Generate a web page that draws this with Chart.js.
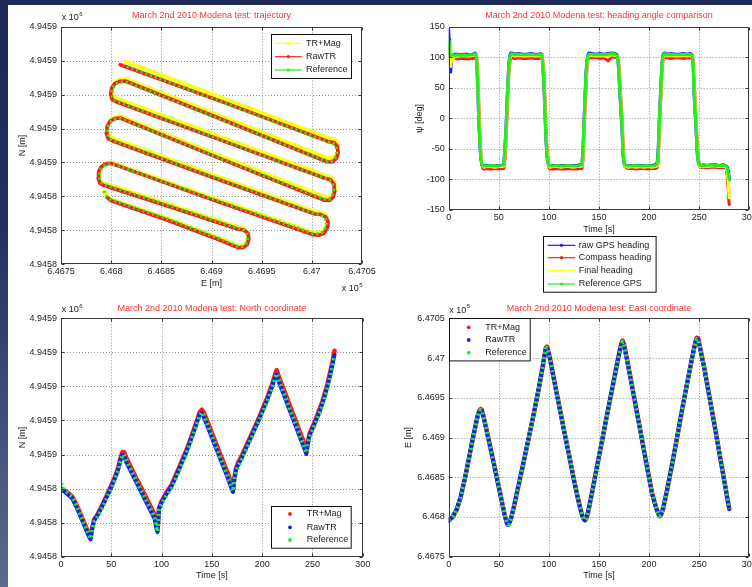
<!DOCTYPE html>
<html><head><meta charset="utf-8">
<script src="https://cdn.jsdelivr.net/npm/chart.js@4.4.1/dist/chart.umd.min.js"></script>
<style>
html,body{margin:0;padding:0;}
body{width:752px;height:587px;overflow:hidden;position:relative;
 background:linear-gradient(180deg,#1c2957 0%,#223160 40%,#3f4e76 70%,#5b698c 100%);}
#panel{position:absolute;left:8px;top:5px;width:744px;height:582px;background:#fff;}
canvas{position:absolute;}
</style></head><body>
<div id="panel"></div>
<canvas id="cTraj" width="368" height="290" style="left:8px;top:5px;width:368px;height:290px"></canvas>
<canvas id="cHead" width="376" height="291" style="left:376px;top:5px;width:376px;height:291px"></canvas>
<canvas id="cNorth" width="368" height="292" style="left:8px;top:295px;width:368px;height:292px"></canvas>
<canvas id="cEast" width="376" height="291" style="left:376px;top:296px;width:376px;height:291px"></canvas>
<script>
// ---------------- DATA ----------------
const E_BASE = 646750;   // metres; East values below are metres above this
const N_BASE = 4945800;  // metres; North values below are metres above this

// axis ticks (metres / seconds / degrees) and their printed labels
const eTickValues = [646750, 646800, 646850, 646900, 646950, 647000, 647050];
const eTickLabels = ['6.4675', '6.468', '6.4685', '6.469', '6.4695', '6.47', '6.4705'];
const nTickValues = [4945800, 4945820, 4945840, 4945860, 4945880, 4945900, 4945920, 4945940];
const nTickLabels = ['4.9458', '4.9458', '4.9458', '4.9459', '4.9459', '4.9459', '4.9459', '4.9459'];
const timeTickValues = [0, 50, 100, 150, 200, 250, 300];
const timeTickLabels = ['0', '50', '100', '150', '200', '250', '300'];
const headTickValues = [-150, -100, -50, 0, 50, 100, 150];
const headTickLabels = ['-150', '-100', '-50', '0', '50', '100', '150'];

// Trajectory (E, N), metres above bases
const trajRefE = [42.7, 45.7, 50.7, 105.7, 155.7, 176, 181, 184.5, 186, 185, 181.5, 176, 110, 43,
  39.5, 38, 38.6, 41, 45, 50, 152, 251, 256.5, 261, 264, 264.8, 262.5, 258, 253, 150, 51,
  47.5, 46, 46.8, 49.5, 54, 59, 160, 262, 267, 270.2, 271.6, 270.8, 267.8, 263, 160, 55,
  51.8, 50.5, 51.5, 54.5, 59, 64, 165, 265, 270, 273.4, 274.8, 274, 271, 266, 165, 62];
const trajRefN = [43.2, 39.8, 37.9, 26.8, 15.6, 10.6, 10.6, 12.3, 15.5, 18.6, 20.6, 21.3, 34.2, 47,
  48.3, 51.3, 54.6, 57.3, 58.8, 59.3, 38.3, 18.2, 17.9, 19, 21.8, 25.2, 28, 29.5, 29.8, 51.9, 73.2,
  74.5, 77.6, 81, 84, 85.5, 85.9, 62.2, 38.4, 38.3, 40.2, 43.5, 47, 49.6, 50.6, 73.2, 96.2,
  97.4, 100.4, 103.7, 106.3, 107.4, 107.6, 84.0, 60.7, 60.8, 62.8, 66, 69.3, 71.4, 72.2, 94.6, 117.5];
const trajRawE = [45.5, 50.7, 105.7, 155.7, 176.5, 181.5, 185.5, 187.3, 186.3, 182, 176, 110, 43,
  39, 37, 37.4, 40, 44.5, 50, 152, 251, 257, 262, 265.3, 266.2, 263.8, 258.5, 253, 150, 51,
  47, 45, 45.8, 48.8, 53.5, 59, 160, 262, 267.5, 271.3, 273, 272.2, 268.8, 263, 160, 55,
  51, 49.5, 50.5, 53.8, 58.5, 64, 165, 265, 270.5, 274.5, 276.2, 275.4, 272, 266, 165, 59];
const trajRawN = [39.6, 37.3, 26.1, 14.9, 9.8, 9.8, 11.6, 15, 18.3, 20.2, 20.8, 33.6, 46.4,
  47.6, 50.8, 54.3, 57.4, 59.1, 59.5, 37.8, 17.5, 17.1, 18.2, 21.3, 25, 28, 29.4, 29.6, 51.4, 72.8,
  74, 77.3, 81, 84.3, 85.9, 86.2, 62, 37.8, 37.6, 39.6, 43.2, 47, 49.8, 50.7, 73, 95.8,
  97, 100.2, 103.8, 106.6, 107.8, 108, 84.3, 60.4, 60.3, 62.4, 65.8, 69.5, 71.8, 72.4, 94.8, 117.6];
const trajMagE = [43, 46, 51, 106, 156, 176.5, 181.5, 185, 186.6, 185.7, 182, 176, 110, 43,
  39.5, 38.3, 38.9, 41.3, 45.3, 50, 152, 251, 257, 262, 265.3, 266.2, 264, 259, 253, 150, 51,
  47.5, 46.2, 47, 49.8, 54.3, 59, 160, 263, 268.3, 271.8, 273.3, 272.5, 269.3, 264, 160, 55,
  51.8, 50.7, 51.8, 54.8, 59.3, 64, 165, 266, 271.5, 275.2, 276.6, 275.8, 272.5, 267, 165, 64];
const trajMagN = [43, 39.9, 38, 27, 15.9, 10.9, 11, 12.7, 15.9, 19.1, 21.2, 22, 34.9, 47.6,
  49, 52, 55.2, 58, 59.5, 60, 39, 18.8, 18.6, 19.8, 22.6, 26, 29, 30.5, 30.9, 53, 74.3,
  75.6, 78.7, 82.2, 85.2, 86.8, 87.2, 63.6, 39.7, 39.6, 41.6, 45, 48.6, 51.2, 52.1, 74.9, 97.7,
  98.9, 102, 105.3, 108, 109.1, 109.3, 86, 62.5, 62.8, 64.8, 68, 71.4, 73.6, 74.3, 97, 119.6];

// Heading angle (deg) versus time (s)
const headTime = [0, 0.5, 1, 1.5, 2, 3, 4, 6, 9, 12, 15, 18, 21, 24, 26, 27,
  28, 29, 30, 31, 32, 33, 34, 35, 38, 42, 46, 50, 53, 55,
  56, 57, 58, 59, 60, 61, 62, 63, 66, 70, 74, 78, 82, 86, 90, 92,
  93, 94, 95, 96, 97, 98, 99, 100, 101, 104, 108, 112, 116, 120, 124, 128, 131, 133,
  134, 135, 136, 137, 138, 139, 140, 143, 147, 151, 155, 159, 163, 166, 168,
  169, 170, 171, 172, 173, 174, 175, 176, 179, 183, 187, 191, 195, 199, 203, 206, 208,
  209, 210, 211, 212, 213, 214, 215, 218, 222, 226, 230, 234, 238, 241, 243,
  244, 245, 246, 247, 248, 249, 250, 251, 254, 258, 262, 266, 270, 274, 276, 277,
  278, 279, 279.5, 280];
const headRawGps = [145, 130, 100, 85, 76, 100, 104, 105, 105, 104, 105, 105, 104, 105, 107, 106,
  90, 45, -5, -42, -66, -76, -78, -78, -77, -77, -78, -77, -77, -75,
  -48, -20, 22, 60, 90, 103, 107, 107, 105, 106, 105, 105, 106, 105, 105, 106,
  104, 82, 52, 8, -35, -62, -73, -78, -79, -77, -78, -77, -77, -78, -77, -77, -76, -74,
  -48, -5, 38, 75, 96, 104, 107, 106, 105, 106, 105, 106, 107, 106, 104,
  92, 66, 34, 6, -22, -62, -74, -78, -77, -78, -77, -77, -78, -77, -77, -76, -73,
  -52, -6, 30, 65, 94, 105, 107, 105, 106, 105, 105, 106, 105, 106, 104,
  82, 35, 5, -25, -58, -71, -77, -78, -76, -77, -76, -76, -77, -76, -77, -78,
  -80, -86, -92, -100];
const headCompass = [123, 112, 104, 100, 98, 97, 98, 98, 97, 98, 98, 97, 98, 98, 99, 99,
  99, 75, 28, -20, -55, -75, -82, -83, -82, -83, -82, -83, -82, -82,
  -70, -45, -5, 35, 72, 92, 98, 99, 98, 99, 98, 98, 99, 98, 98, 99,
  99, 95, 75, 35, -10, -45, -68, -80, -83, -83, -82, -83, -83, -82, -83, -83, -82, -82,
  -70, -30, 12, 50, 82, 96, 99, 99, 100, 98, 99, 94, 101, 100, 99,
  98, 85, 55, 28, 0, -38, -68, -79, -82, -82, -83, -82, -82, -83, -82, -82, -81,
  -72, -35, 5, 42, 78, 96, 99, 99, 98, 99, 99, 98, 99, 99, 99,
  96, 62, 28, -5, -40, -62, -76, -80, -80, -81, -80, -80, -81, -80, -81, -82,
  -95, -115, -134, -141];
const headFinal = [128, 112, 88, 110, 85, 106, 95, 102, 102, 102, 103, 102, 102, 103, 104, 104,
  98, 62, 12, -28, -58, -72, -78, -80, -79, -79, -80, -79, -79, -78,
  -62, -36, 6, 45, 80, 97, 103, 104, 102, 103, 102, 102, 103, 102, 102, 103,
  102, 92, 66, 24, -20, -52, -69, -78, -80, -79, -79, -80, -79, -79, -80, -79, -79, -78,
  -62, -20, 22, 60, 88, 100, 103, 103, 102, 103, 102, 101, 104, 103, 102,
  97, 78, 48, 20, -8, -48, -70, -78, -80, -79, -80, -79, -80, -79, -80, -79, -78,
  -66, -22, 14, 50, 85, 100, 104, 102, 103, 102, 102, 103, 102, 103, 102,
  92, 50, 20, -12, -46, -66, -76, -79, -78, -79, -78, -78, -79, -78, -79, -80,
  -88, -105, -122, -130];
const headRefGps = [133, 120, 110, 104, 102, 103, 104, 103, 104, 103, 104, 103, 104, 104, 106, 105,
  96, 52, 3, -35, -62, -74, -77, -78, -78, -77, -78, -78, -77, -76,
  -55, -30, 14, 52, 84, 100, 105, 106, 104, 105, 104, 104, 105, 104, 104, 105,
  103, 88, 60, 15, -28, -57, -70, -76, -78, -78, -77, -78, -78, -77, -78, -78, -77, -76,
  -55, -12, 30, 68, 92, 102, 105, 105, 104, 105, 104, 105, 106, 105, 103,
  95, 72, 41, 14, -14, -55, -71, -76, -78, -78, -77, -78, -78, -77, -78, -77, -75,
  -60, -14, 22, 58, 90, 103, 106, 104, 105, 104, 104, 105, 104, 105, 103,
  88, 41, 12, -18, -52, -68, -75, -77, -77, -77, -76, -77, -77, -77, -77, -78,
  -82, -90, -96, -101];

// North coordinate versus time (metres above N_BASE)
const northTime = [0, 3, 7, 11, 15, 20, 25, 28, 29.5, 31, 33, 36, 40, 45, 50, 54, 57, 59, 61, 62.5,
  65, 70, 75, 80, 85, 90, 93, 95, 96, 97.5, 100, 105, 110, 115, 120, 125, 130, 135, 138, 140,
  142, 146, 150, 155, 160, 165, 169, 171, 172.5, 174, 176, 180, 185, 190, 195, 200, 205, 210, 213, 214.5,
  217, 222, 227, 232, 237, 241, 244, 245.5, 247, 250, 255, 260, 265, 270, 272];
const northTRMag = [40, 39, 37.5, 35.5, 31, 24.2, 17.2, 13, 11.3, 16.8, 22, 24.5, 29, 35.2, 41.8, 47.3, 52.5, 57.5, 61.3, 61.5,
  58, 52, 46, 40.2, 34.3, 28.4, 24.8, 18.5, 15.5, 28.5, 32.5, 37.8, 42.3, 49, 56, 63, 71, 79.5, 85, 86.3,
  84.6, 78.8, 72.8, 65.3, 57.8, 50.3, 43.8, 39.5, 46.5, 51.8, 55, 59.6, 66.1, 72.6, 79.1, 86.1, 93.2, 101.2, 107.2, 109.6,
  105, 97.5, 89.5, 82, 74, 68, 62.5, 67, 72, 76, 83.3, 91.3, 101.5, 114.5, 121];
const northRawTR = [39, 38.5, 36.4, 34.3, 29.6, 22.7, 15.7, 11.5, 10.2, 16.5, 21.4, 24, 28.5, 34.5, 41, 46.5, 51.5, 56.5, 60, 59.5,
  55.4, 49.5, 43.6, 37.7, 31.8, 25.9, 22.3, 16, 14.4, 28.4, 32, 37, 41.5, 48, 55, 62, 70, 78.5, 84, 84.3,
  82, 76, 70, 62.5, 55, 47.5, 41, 38, 46, 51, 53.9, 58.5, 65, 71.5, 78, 85, 92, 100, 106, 107,
  102, 94.5, 86.5, 79, 71, 65, 60.3, 66, 71, 75, 82, 90, 100, 113, 118.5];
const northRef = [43, 39.5, 37.2, 35.2, 30.5, 23.6, 16.6, 12.4, 10.6, 15.7, 20.5, 23, 27.5, 33.5, 40, 45.5, 50.5, 55.5, 59.5, 60,
  56.4, 50.5, 44.6, 38.7, 32.8, 26.9, 23.3, 17, 14.8, 27.4, 31, 36, 40.5, 47, 54, 61, 69, 77.5, 83, 84.8,
  83, 77, 71, 63.5, 56, 48.5, 42, 38.5, 45, 50, 52.9, 57.5, 64, 70.5, 77, 84, 91, 99, 105, 107.5,
  103, 95.5, 87.5, 80, 72, 66, 61, 65, 70, 74, 81, 89, 99, 112, 118];

// East coordinate versus time (metres above E_BASE)
const eastTime = [0, 4, 8, 12, 16, 20, 24, 27, 29, 31, 32, 33, 35, 40, 45, 50, 54, 56, 58, 59,
  60, 62, 65, 70, 75, 80, 85, 90, 94, 96, 97, 98, 99, 101, 105, 110, 115, 120, 125, 130,
  133, 135, 136, 137, 139, 143, 148, 153, 158, 163, 168, 171, 172.5, 173.5, 175, 178, 183, 188, 193, 198,
  203, 207, 209, 210.5, 212, 214, 218, 223, 228, 233, 238, 243, 246, 247.5, 249, 251, 255, 260, 265, 270,
  275, 280];
const eastTRMag = [46, 50, 59, 75, 97, 122, 148, 166, 177.5, 185, 186, 185, 175.5, 147, 118, 88, 64, 52, 43, 40.5,
  41, 47, 62, 91, 120, 150, 180, 212, 240.5, 256, 263, 264.5, 261, 250.5, 224, 192, 160, 129, 97, 68,
  53, 47, 46, 47, 55, 80, 113, 145, 178, 210, 242.5, 261, 269, 272, 267, 248.5, 215, 181, 147, 113,
  80, 62, 55, 51, 53, 60, 84, 116, 150, 185, 218, 250.5, 269, 275.5, 274.5, 263, 238.5, 203, 168, 132,
  96, 60];
const eastRawTR = [45, 50, 60, 76, 98, 123, 149, 167, 178, 184.5, 185, 183, 174, 146, 117, 87, 63, 51, 42.5, 40,
  41, 48, 63, 92, 121, 151, 181, 213, 241, 256, 262.5, 263, 259, 249, 223, 191, 159, 128, 96, 67,
  52, 46.5, 46, 47.5, 56, 81, 114, 146, 179, 211, 243, 261, 268.5, 270.5, 265, 247, 214, 180, 146, 112,
  79, 61, 54.5, 51, 53.5, 61, 85, 117, 151, 186, 219, 251, 269, 274.5, 272.5, 261, 237, 202, 167, 131,
  95, 60];
const eastRef = [46, 50, 59, 75, 97, 122, 148, 166, 177, 184, 185, 184, 175, 147, 118, 88, 64, 52, 43, 40.5,
  41, 47, 62, 91, 120, 150, 180, 212, 240, 255, 262, 263, 260, 250, 224, 192, 160, 129, 97, 68,
  53, 47, 46, 47, 55, 80, 113, 145, 178, 210, 242, 260, 268, 270.5, 266, 248, 215, 181, 147, 113,
  80, 62, 55, 51, 53, 60, 84, 116, 150, 185, 218, 250, 268, 274, 273, 262, 238, 203, 168, 132,
  96, 60];

// ---------------- RENDERING ----------------
const FONT = "'Liberation Sans', Arial, Helvetica, sans-serif";
Chart.defaults.font.family = FONT;
Chart.defaults.font.size = 9;
Chart.defaults.color = '#222';

const RED = '#ff1a1a', GREEN = '#1ff01f', BLUE = '#1a1aff', YELLOW = '#ffff1a';
const TITLE_RED = '#ff3030';

function xy(xs, ys, xBase, yBase) {
  const n = Math.min(xs.length, ys.length), out = [];
  for (let i = 0; i < n; i++) out.push({x: xs[i] + xBase, y: ys[i] + yBase});
  return out;
}
function ds(label, data, color, width, order, dash) {
  return {label, data, borderColor: color, backgroundColor: color, borderWidth: width,
    pointRadius: 0, pointHoverRadius: 0, tension: 0, fill: false, order,
    borderDash: dash || [], borderCapStyle: dash ? 'butt' : 'round', borderJoinStyle: 'round'};
}
function axis(position, min, max, vals, labels, size, title, titlePad) {
  const horiz = position === 'bottom';
  return {
    type: 'linear', position, min, max,
    grid: {display: false, drawTicks: false},
    border: {display: false},
    ticks: {autoSkip: false, maxRotation: 0, minRotation: 0, padding: horiz ? 2 : 4,
      color: '#222', font: {size: 9}, callback: (v, i) => labels[i]},
    afterBuildTicks: (s) => { s.ticks = vals.map(v => ({value: v})); },
    afterFit: (s) => {
      if (horiz) { s.height = size; s.paddingLeft = 0; s.paddingRight = 0; }
      else { s.width = size; s.paddingTop = 0; s.paddingBottom = 0; }
    },
    title: {display: true, text: title, color: '#222', font: {size: 9}, padding: titlePad}
  };
}

function drawExp(ctx, x, y, sup) {
  ctx.font = '9px ' + FONT; ctx.textBaseline = 'middle'; ctx.textAlign = 'left'; ctx.fillStyle = '#222';
  ctx.fillText('x 10', x, y);
  const w = ctx.measureText('x 10').width;
  ctx.font = '6px ' + FONT; ctx.fillText(sup, x + w + 0.5, y - 4);
}

const matlabPlugin = {
  id: 'matlab',
  beforeDatasetsDraw(chart) {
    const {ctx, chartArea: a, scales: {x, y}} = chart;
    ctx.save();
    ctx.strokeStyle = 'rgba(50,50,50,0.55)'; ctx.lineWidth = 1; ctx.setLineDash([1, 2]);
    x.ticks.forEach(t => {
      const p = Math.round(x.getPixelForValue(t.value)) + 0.5;
      if (p > a.left + 2 && p < a.right - 2) { ctx.beginPath(); ctx.moveTo(p, a.top); ctx.lineTo(p, a.bottom); ctx.stroke(); }
    });
    y.ticks.forEach(t => {
      const p = Math.round(y.getPixelForValue(t.value)) + 0.5;
      if (p > a.top + 2 && p < a.bottom - 2) { ctx.beginPath(); ctx.moveTo(a.left, p); ctx.lineTo(a.right, p); ctx.stroke(); }
    });
    ctx.restore();
  },
  afterDatasetsDraw(chart, args, o) {
    const {ctx, chartArea: a, scales: {x, y}} = chart;
    ctx.save();
    ctx.setLineDash([]);
    ctx.strokeStyle = '#3a3a3a'; ctx.lineWidth = 1;
    const L = Math.round(a.left) + 0.5, R = Math.round(a.right) - 0.5, T = Math.round(a.top) + 0.5, B = Math.round(a.bottom) - 0.5;
    ctx.strokeRect(L, T, R - L, B - T);
    ctx.beginPath();
    x.ticks.forEach(t => {
      const p = Math.round(x.getPixelForValue(t.value)) + 0.5;
      ctx.moveTo(p, B); ctx.lineTo(p, B - 3); ctx.moveTo(p, T); ctx.lineTo(p, T + 3);
    });
    y.ticks.forEach(t => {
      const p = Math.round(y.getPixelForValue(t.value)) + 0.5;
      ctx.moveTo(L, p); ctx.lineTo(L + 3, p); ctx.moveTo(R, p); ctx.lineTo(R - 3, p);
    });
    ctx.stroke();
    if (o.yExp) drawExp(ctx, a.left + o.yExp.dx, a.top + o.yExp.dy, o.yExp.text);
    if (o.xExp) drawExp(ctx, a.right + o.xExp.dx, a.bottom + o.xExp.dy, o.xExp.text);
    const lg = o.legend;
    if (lg) {
      const bx = (lg.anchor[1] === 'r' ? a.right : a.left) + lg.dx;
      const by = (lg.anchor[0] === 'b' ? a.bottom : a.top) + lg.dy;
      ctx.fillStyle = '#fff'; ctx.fillRect(bx, by, lg.w, lg.h);
      ctx.strokeStyle = '#111'; ctx.lineWidth = 1;
      ctx.strokeRect(Math.round(bx) + 0.5, Math.round(by) + 0.5, lg.w, lg.h);
      chart.data.datasets.forEach((d, i) => {
        const ry = by + lg.rows[i];
        ctx.fillStyle = d.borderColor; ctx.strokeStyle = d.borderColor;
        if (lg.style === 'line') {
          ctx.lineWidth = 1.2; ctx.beginPath(); ctx.moveTo(bx + lg.x0, ry); ctx.lineTo(bx + lg.x1, ry); ctx.stroke();
          ctx.beginPath(); ctx.arc(bx + (lg.x0 + lg.x1) / 2, ry, 1.6, 0, Math.PI * 2); ctx.fill();
        } else {
          ctx.beginPath(); ctx.arc(bx + lg.dotX, ry, 1.9, 0, Math.PI * 2); ctx.fill();
        }
        ctx.fillStyle = '#222'; ctx.font = '9px ' + FONT; ctx.textBaseline = 'middle'; ctx.textAlign = 'left';
        ctx.fillText(d.label, bx + lg.textX, ry);
      });
    }
    ctx.restore();
  }
};
Chart.register(matlabPlugin);

function baseOptions(padding, title, titlePad, scales, matlab) {
  return {
    responsive: false, animation: false, devicePixelRatio: 1, events: [],
    layout: {padding},
    plugins: {
      legend: {display: false}, tooltip: {enabled: false},
      title: {display: true, text: title, color: TITLE_RED, font: {size: 9, weight: 'normal'},
        padding: titlePad, fullSize: false},
      matlab
    },
    scales
  };
}

// Trajectory
new Chart(document.getElementById('cTraj'), {
  type: 'line',
  data: {datasets: [
    ds('TR+Mag', xy(trajMagE, trajMagN, E_BASE, N_BASE), YELLOW, 4, 2),
    ds('RawTR', xy(trajRawE, trajRawN, E_BASE, N_BASE), RED, 3.6, 1),
    ds('Reference', xy(trajRefE, trajRefN, E_BASE, N_BASE), GREEN, 3.2, 0, [2, 3])
  ]},
  options: baseOptions({left: 0, right: 14, top: 0, bottom: 0},
    'March 2nd 2010 Modena test: trajectory', {top: 5.3, bottom: 5.6},
    {x: axis('bottom', 646750, 647050, eTickValues, eTickLabels, 30.7, 'E [m]', {top: 0, bottom: 6.3}),
     y: axis('left', 4945800, 4945940, nTickValues, nTickLabels, 53, 'N [m]', {top: 9.3, bottom: 0})},
    {yExp: {text: '6', dx: 0.7, dy: -8.7}, xExp: {text: '5', dx: -20.3, dy: 24.7},
     legend: {anchor: 'tr', dx: -91.3, dy: 7.6, w: 80, h: 44, rows: [9, 22.4, 35.7], style: 'line', x0: 4.3, x1: 31, textX: 35.3}})
});

// Heading
new Chart(document.getElementById('cHead'), {
  type: 'line',
  data: {datasets: [
    ds('raw GPS heading', xy(headTime, headRawGps, 0, 0), BLUE, 3, 3),
    ds('Compass heading', xy(headTime, headCompass, 0, 0), RED, 3, 2),
    ds('Final heading', xy(headTime, headFinal, 0, 0), YELLOW, 3, 1),
    ds('Reference GPS', xy(headTime, headRefGps, 0, 0), GREEN, 3, 0)
  ]},
  options: baseOptions({left: 0, right: 2.7, top: 0, bottom: 60},
    'March 2nd 2010 Modena test: heading angle comparison', {top: 5.6, bottom: 5.3},
    {x: axis('bottom', 0, 300, timeTickValues, timeTickLabels, 26, 'Time [s]', {top: 0, bottom: 0.6}),
     y: axis('left', -150, 150, headTickValues, headTickLabels, 72.7, 'ψ [deg]', {top: 38.6, bottom: 0})},
    {legend: {anchor: 'bl', dx: 94, dy: 26, w: 112.6, h: 55.7, rows: [9.3, 21.7, 34.7, 48], style: 'line', x0: 5, x1: 32.6, textX: 36}})
});

// North coordinate
new Chart(document.getElementById('cNorth'), {
  type: 'line',
  data: {datasets: [
    ds('TR+Mag', xy(northTime, northTRMag, 0, N_BASE), RED, 4.5, 2),
    ds('RawTR', xy(northTime, northRawTR, 0, N_BASE), BLUE, 4, 1),
    ds('Reference', xy(northTime, northRef, 0, N_BASE), GREEN, 4, 0, [2, 3])
  ]},
  options: baseOptions({left: 0, right: 13.3, top: 0, bottom: 0},
    'March 2nd 2010 Modena test: North coordinate', {top: 8.6, bottom: 3.9},
    {x: axis('bottom', 0, 300, timeTickValues, timeTickLabels, 30.3, 'Time [s]', {top: 0, bottom: 5.6}),
     y: axis('left', 4945800, 4945940, nTickValues, nTickLabels, 53, 'N [m]', {top: 9.3, bottom: 0})},
    {yExp: {text: '6', dx: 0.7, dy: -8.3},
     legend: {anchor: 'br', dx: -91.7, dy: -50.7, w: 79.7, h: 41.7, rows: [8, 21.3, 34], style: 'dot', dotX: 19, textX: 35.7}})
});

// East coordinate
new Chart(document.getElementById('cEast'), {
  type: 'line',
  data: {datasets: [
    ds('TR+Mag', xy(eastTime, eastTRMag, 0, E_BASE), RED, 4.5, 2),
    ds('RawTR', xy(eastTime, eastRawTR, 0, E_BASE), BLUE, 4, 1),
    ds('Reference', xy(eastTime, eastRef, 0, E_BASE), GREEN, 4, 0, [2, 3])
  ]},
  options: baseOptions({left: 0, right: 2.7, top: 0, bottom: 0},
    'March 2nd 2010 Modena test: East coordinate', {top: 6.9, bottom: 4.6},
    {x: axis('bottom', 0, 300, timeTickValues, timeTickLabels, 30.3, 'Time [s]', {top: 0, bottom: 5.6}),
     y: axis('left', 646750, 647050, eTickValues, eTickLabels, 72.7, 'E [m]', {top: 27.6, bottom: 0})},
    {yExp: {text: '5', dx: 0.6, dy: -7.6},
     legend: {anchor: 'tl', dx: 0.6, dy: 0, w: 80.7, h: 42.4, rows: [9, 21.7, 34.4], style: 'dot', dotX: 19.4, textX: 36}})
});
</script>
</body></html>
